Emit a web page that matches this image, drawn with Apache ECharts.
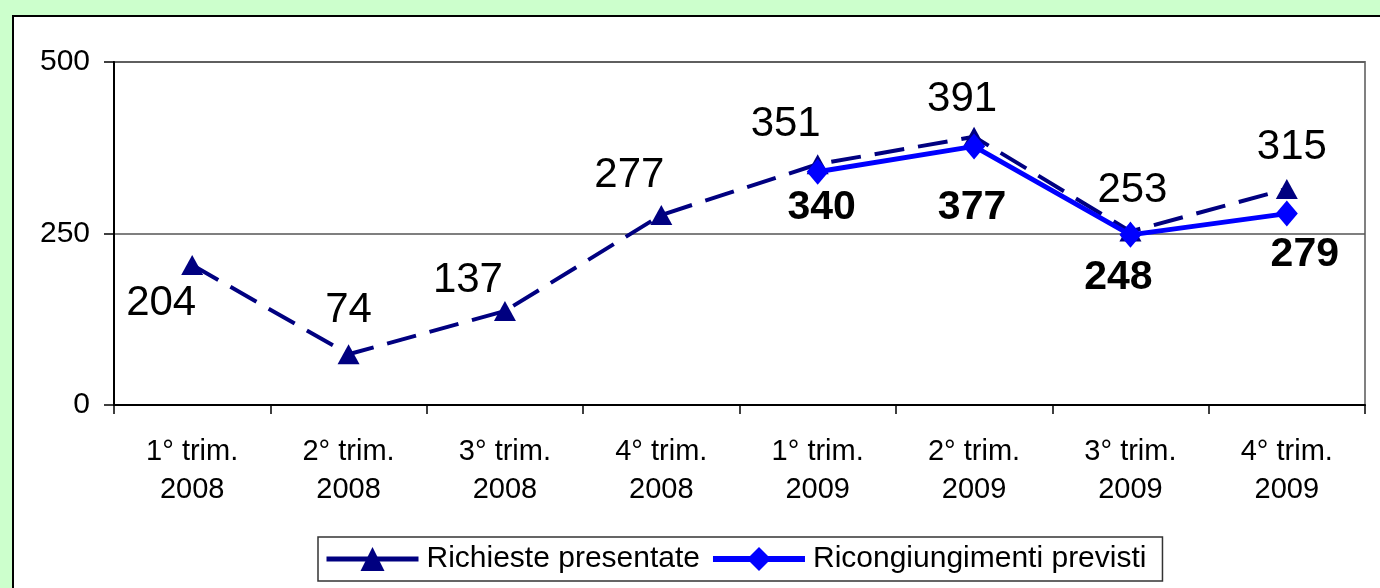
<!DOCTYPE html>
<html>
<head>
<meta charset="utf-8">
<script src="https://cdn.jsdelivr.net/npm/echarts@6/dist/echarts.min.js"></script>
<style>
html,body{margin:0;padding:0;width:1380px;height:588px;overflow:hidden;background:#ccffcc;}
#frame{position:absolute;left:12px;top:15px;width:1400px;height:600px;background:#fff;border-left:2px solid #000;border-top:2px solid #000;}
#chart{position:absolute;left:0;top:0;width:1380px;height:588px;}
</style>
</head>
<body>
<div id="frame"></div>
<div id="chart"></div>
<script>
const categories = ["1° trim.\n2008","2° trim.\n2008","3° trim.\n2008","4° trim.\n2008","1° trim.\n2009","2° trim.\n2009","3° trim.\n2009","4° trim.\n2009"];
const richieste = [204, 74, 137, 277, 351, 391, 253, 315];
const ricongiungimenti = [null, null, null, null, 340, 377, 248, 279];
const yTicks = [0, 250, 500];

// label placement (style only)
const offsetsA = [[-31,38],[0,-44],[-37,-31],[-32,-40],[-32,-40],[-12,-37],[2,-41],[5,-41]];
const offsetsB = [null,null,null,null,[4,36],[-2,61],[-12,43],[18,41]];

const FONT = '"Liberation Sans", Arial, sans-serif';

const chart = echarts.init(document.getElementById('chart'), null, {renderer:'canvas'});
chart.setOption({
  animation:false,
  backgroundColor:'transparent',
  grid:{left:114, top:62, right:15, bottom:183, show:true, borderColor:'#808080', borderWidth:2, backgroundColor:'transparent'},
  legend:{
    left:318, top:537,
    padding:[7,16,7,6],
    borderColor:'#333', borderWidth:1.5,
    itemWidth:92, itemHeight:30, itemGap:10,
    textStyle:{fontFamily:FONT, fontSize:30, color:'#000', padding:[0,0,0,3]},
    data:[
      {name:'Richieste presentate', lineStyle:{type:'solid', width:5}},
      {name:'Ricongiungimenti previsti', lineStyle:{type:'solid', width:6}}
    ]
  },
  xAxis:{
    type:'category', data:categories, boundaryGap:true,
    axisLine:{lineStyle:{color:'#000', width:2}},
    axisTick:{show:true, length:9, lineStyle:{color:'#000', width:1.5}, alignWithLabel:false},
    axisLabel:{fontFamily:FONT, fontSize:29, color:'#000', lineHeight:38, margin:28, interval:0}
  },
  yAxis:{
    type:'value', min:0, max:500, interval:250,
    axisLine:{show:true, lineStyle:{color:'#000', width:2}},
    axisTick:{show:true, length:10, lineStyle:{color:'#000', width:1.5}},
    axisLabel:{fontFamily:FONT, fontSize:30, color:'#000', margin:24,
      formatter:v=>yTicks.includes(v)?String(v):''},
    splitLine:{show:true, lineStyle:{color:'#555', width:1.5}}
  },
  series:[
    {
      name:'Richieste presentate', type:'line', z:2,
      data:richieste.map((v,i)=>({value:v, label:{offset:offsetsA[i]}})),
      symbol:'triangle', symbolSize:[22,20],
      itemStyle:{color:'#000080'},
      lineStyle:{color:'#000080', width:4, type:[30,14]},
      label:{show:true, position:'inside', fontFamily:FONT, fontSize:42, color:'#000', align:'center', verticalAlign:'middle'}
    },
    {
      name:'Ricongiungimenti previsti', type:'line', z:3,
      data:ricongiungimenti.map((v,i)=>({value:v, label:{offset:offsetsB[i]||[0,0]}})),
      symbol:'diamond', symbolSize:[22,26],
      itemStyle:{color:'#0000ff'},
      lineStyle:{color:'#0000ff', width:5},
      label:{show:true, position:'inside', fontFamily:FONT, fontSize:41, fontWeight:'bold', color:'#000', align:'center', verticalAlign:'middle'}
    }
  ]
});
</script>
</body>
</html>
